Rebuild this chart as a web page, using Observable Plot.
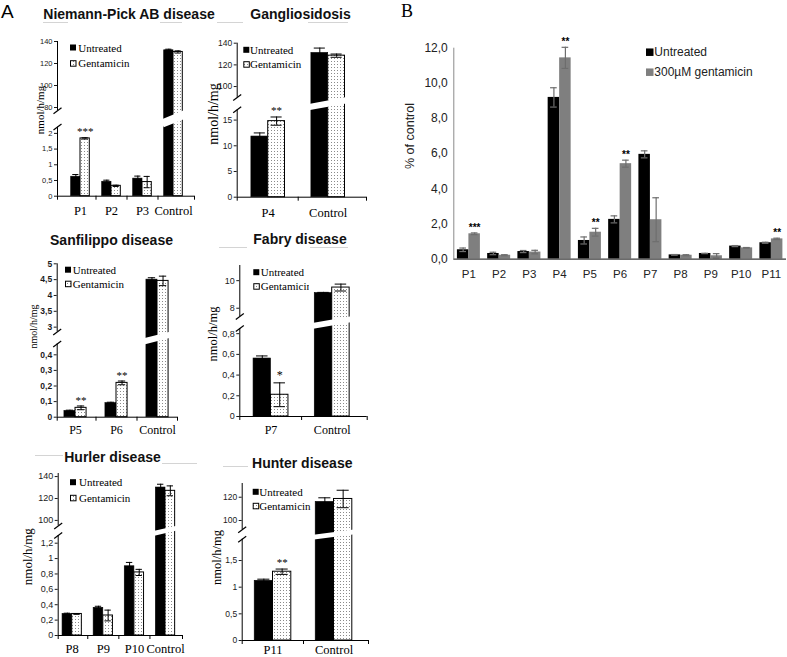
<!DOCTYPE html>
<html><head><meta charset="utf-8">
<script src="https://cdn.jsdelivr.net/npm/d3@7"></script>
<script src="https://cdn.jsdelivr.net/npm/@observablehq/plot@0.6"></script>
<style>
body{margin:0;background:#fff}
#root{position:relative;width:787px;height:657px;overflow:hidden;background:#fff}
</style></head>
<body><div id="root"></div>
<script>
const SANS = "'Liberation Sans', Arial, sans-serif";
const SERIF = "'Liberation Serif', 'Times New Roman', serif";

// ---------- Panel A data ----------
// Niemann-Pick AB disease
const npCats = ["P1", "P2", "P3", "Control"];
const npUntreated = [0.62, 0.46, 0.56, 132];
const npUntreatedErr = [0.07, 0.05, 0.08, 1];
const npGentamicin = [1.84, 0.33, 0.45, 130.5];
const npGentamicinErr = [0.02, 0.02, 0.18, 1];
const npSig = ["***", "", "", ""];
const npTicks = [0, 0.5, 1, 1.5, 2, 80, 100, 120, 140];
const npScale = [2.2, 77, 140];

// Gangliosidosis
const gaCats = ["P4", "Control"];
const gaUntreated = [11.8, 131];
const gaUntreatedErr = [0.7, 4.5];
const gaGentamicin = [14.8, 128.5];
const gaGentamicinErr = [0.8, 1.5];
const gaSig = ["**", ""];
const gaTicks = [0, 5, 10, 15, 100, 120, 140];
const gaScale = [17, 90, 140];

// Sanfilippo disease
const sfCats = ["P5", "P6", "Control"];
const sfUntreated = [0.04, 0.09, 4.5];
const sfUntreatedErr = [0.005, 0.006, 0.06];
const sfGentamicin = [0.06, 0.22, 4.46];
const sfGentamicinErr = [0.012, 0.012, 0.15];
const sfSig = ["**", "**", ""];
const sfTicks = [0, 0.1, 0.2, 0.3, 0.4, 3, 3.5, 4, 4.5, 5];
const sfScale = [0.47, 2.85, 5];

// Fabry disease
const fbCats = ["P7", "Control"];
const fbUntreated = [0.56, 9.1];
const fbUntreatedErr = [0.025, 0.05];
const fbGentamicin = [0.21, 9.5];
const fbGentamicinErr = [0.115, 0.25];
const fbSig = ["*", ""];
const fbTicks = [0, 0.2, 0.4, 0.6, 0.8, 8, 10];
const fbScale = [0.85, 7.4, 11.1];

// Hurler disease
const huCats = ["P8", "P9", "P10", "Control"];
const huUntreated = [0.28, 0.36, 0.9, 130];
const huUntreatedErr = [0.01, 0.02, 0.05, 3];
const huGentamicin = [0.28, 0.26, 0.82, 127];
const huGentamicinErr = [0.005, 0.07, 0.04, 4.5];
const huSig = ["", "", "", ""];
const huTicks = [0, 0.2, 0.4, 0.6, 0.8, 1, 1.2, 100, 120, 140];
const huScale = [1.3, 95, 142.8];

// Hunter disease
const hnCats = ["P11", "Control"];
const hnUntreated = [1.12, 116];
const hnUntreatedErr = [0.03, 3.5];
const hnGentamicin = [1.29, 118.5];
const hnGentamicinErr = [0.05, 7.5];
const hnSig = ["**", ""];
const hnTicks = [0, 0.5, 1, 1.5, 100, 120];
const hnScale = [1.9, 92, 131.8];

const titles = ["Niemann-Pick AB disease", "Gangliosidosis", "Sanfilippo disease", "Fabry disease", "Hurler disease", "Hunter disease"];
const seriesA = ["Untreated", "Gentamicin"];
const yLabelA = "nmol/h/mg";

// ---------- Panel B data ----------
const bCats = ["P1", "P2", "P3", "P4", "P5", "P6", "P7", "P8", "P9", "P10", "P11"];
const bUntreated = [0.53, 0.32, 0.43, 9.2, 1.06, 2.26, 5.96, 0.24, 0.32, 0.74, 0.93];
const bUntreatedErr = [0.1, 0.07, 0.06, 0.55, 0.2, 0.2, 0.2, 0.02, 0.01, 0.03, 0.03];
const bGentamicin = [1.44, 0.22, 0.4, 11.45, 1.53, 5.43, 2.24, 0.22, 0.19, 0.64, 1.15];
const bGentamicinErr = [0.05, 0.03, 0.1, 0.6, 0.22, 0.2, 1.25, 0.03, 0.12, 0.02, 0.04];
const bSig = ["***", "", "", "**", "**", "**", "", "", "", "", "**"];
const bTicks = [0, 2, 4, 6, 8, 10, 12];
const seriesB = ["Untreated", "300\u00b5M gentamicin"];
const yLabelB = "% of control";

// ---------- Layout (page pixels) ----------
const LAYOUT = {
  np: {box: [8, 30, 205, 224], axisL: 57, axisR: 194, c0: 80, band: 31, w: 0.3, y: [195.7, 126.6, 110.3, 41], tickFont: 7.5, xlabY: 210.7, xlabFont: 12.5, sigFont: 11, sigDy: 3,
       title: [129, 13.8], ylab: [39.5, 110, 11], legend: [70, 47.5, 63.2, 78.3]},
  ga: {box: [195, 30, 380, 224], axisL: 236.7, axisR: 366, c0: 267.7, band: 60, w: 0.28, y: [196.7, 109.3, 96.9, 42.7], tickFont: 8.5, xlabY: 212, xlabFont: 12.5, sigFont: 11, sigDy: 3,
       title: [300.5, 13.5], ylab: [213.3, 114, 14], legend: [243.3, 49.8, 64.2, 250]},
  sf: {box: [8, 255, 192, 440], axisL: 56.7, axisR: 177, c0: 75, band: 41, w: 0.27, y: [416.7, 343.4, 331.4, 263.3], tickFont: 8.5, tickWeight: "bold", xlabY: 430, xlabFont: 12, sigFont: 11, sigDy: 2,
       title: [111.5, 239.5], ylab: [33.3, 326.5, 10], legend: [65, 269.7, 283.7, 72.7]},
  fb: {box: [195, 255, 380, 440], axisL: 239.3, axisR: 366.7, c0: 270.5, band: 61.2, w: 0.285, y: [416, 328, 316, 265], tickFont: 9, xlabY: 430, xlabFont: 12, sigFont: 12, sigDy: 4,
       title: [300, 239], ylab: [212.5, 334, 12.5], legend: [253.3, 272.2, 286.2, 260.7], legendClip: 309},
  hu: {box: [8, 468, 195, 657], axisL: 57.7, axisR: 182, c0: 71.7, band: 31.1, w: 0.31, y: [635, 535, 525.4, 473], tickFont: 9, xlabY: 648.5, xlabFont: 12.5, sigFont: 11, sigDy: 3,
       title: [112.5, 457], ylab: [27.5, 556.7, 13], legend: [70, 482.2, 497.8, 79]},
  hn: {box: [195, 475, 380, 657], axisL: 241.7, axisR: 368, c0: 272.5, band: 61, w: 0.3, y: [640, 538.7, 529.3, 483], tickFont: 8.5, xlabY: 649.5, xlabFont: 12.5, sigFont: 11, sigDy: 3,
       title: [302.3, 462.7], ylab: [216.7, 557.5, 12.5], legend: [252.7, 491.8, 505.8, 259.3]}
};
const LAYOUT_B = {box: [398, 28, 787, 292], axisL: 453.3, axisR: 786, c0: 468.4, band: 30.25, w: 0.38, y0: 258.6, yTop: 47.7,
  xlabY: 274.3, ylab: [410, 136, 12.5], legend: [646, 52.2, 72.2, 654.3]};
const DECO = [[43, 68, 22], [160, 182, 22], [217, 243, 22], [308, 348, 22], [219, 247, 247], [310, 348, 247], [35, 63, 455], [162, 197, 463], [223, 248, 466]];

const fmtComma = d => String(d).replace(".", ",");
const root = document.getElementById("root");

function place(svg, box) {
  svg.style.position = "absolute";
  svg.style.left = box[0] + "px";
  svg.style.top = box[1] + "px";
  root.appendChild(svg);
}

function smallPanel(D, L) {
  const [bx0, by0, bx1, by1] = L.box;
  const W = bx1 - bx0, H = by1 - by0;
  const [r0, rLow, rUp, rTop] = L.y.map(v => v - by0);
  const [lowTop, upBot, top] = D.scale;
  const yNeg = -4 * lowTop / (r0 - rLow);
  const yDomain = [yNeg, 0, lowTop, upBot, top];
  const yRange = [r0 + 4, r0, rLow, rUp, rTop];
  const inv = d3.scaleLinear().domain(yRange).range(yDomain);
  const xmin = -(L.c0 - L.axisL) / L.band, xmax = (L.axisR - L.c0) / L.band;
  const n = D.cats.length, w = L.w, ci = n - 1;
  const px = 1 / L.band;
  const un = D.cats.map((c, i) => ({i, xc: i - w / 2, x1: i - w, x2: i, v: D.u[i], e: D.ue[i]}));
  const ge = D.cats.map((c, i) => ({i, xc: i + w / 2, x1: i, x2: i + w, v: D.g[i], e: D.ge[i], sig: D.sig[i]}));
  const all = un.concat(ge);
  const capHalf = w * 0.33;
  const gap = rLow - rUp;
  const cut = [{x1: ci - w - 2 * px, x2: ci + w + 2 * px, y1: inv(rLow - 0.22 * gap), y2: inv(rUp + 0.22 * gap)}];
  const slashes = [rLow, rUp].map(r => ({x1: xmin - 4 * px, x2: xmin + 4 * px, y1: inv(r + 3), y2: inv(r - 3)}));
  const bounds = [xmin, ...d3.range(n - 1).map(i => i + 0.5), xmax];
  const svg = Plot.plot({
    width: W, height: H,
    marginLeft: L.axisL - bx0, marginRight: bx1 - L.axisR,
    marginTop: rTop, marginBottom: H - (r0 + 4),
    x: {type: "linear", domain: [xmin, xmax], axis: null},
    y: {type: "linear", domain: yDomain, range: yRange},
    style: {fontFamily: SERIF, background: "transparent", overflow: "visible", color: "#000"},
    marks: [
      Plot.rect(un, {x1: "x1", x2: "x2", y1: () => 0, y2: "v", fill: "#000", stroke: "#000", strokeWidth: 0.6}),
      Plot.rect(ge, {x1: "x1", x2: "x2", y1: () => 0, y2: "v", fill: "url(#dots)", stroke: "#000", strokeWidth: 1}),
      Plot.link(cut, {x1: "x1", y1: "y1", x2: "x2", y2: "y2", stroke: "#fff", strokeWidth: gap * 0.5, strokeLinecap: "butt"}),
      Plot.ruleX(all, {x: "xc", y1: d => d.v - d.e, y2: d => d.v + d.e, stroke: "#000", strokeWidth: 1}),
      Plot.ruleY(all, {y: d => d.v + d.e, x1: d => d.xc - capHalf, x2: d => d.xc + capHalf, stroke: "#000", strokeWidth: 1}),
      Plot.ruleY(all, {y: d => d.v - d.e, x1: d => d.xc - capHalf, x2: d => d.xc + capHalf, stroke: "#000", strokeWidth: 1}),
      Plot.ruleX([xmin], {x: d => d, y1: () => 0, y2: () => lowTop, stroke: "#000"}),
      Plot.ruleX([xmin], {x: d => d, y1: () => upBot, y2: () => top, stroke: "#000"}),
      Plot.link(slashes, {x1: "x1", y1: "y1", x2: "x2", y2: "y2", stroke: "#000", strokeWidth: 1.2}),
      Plot.ruleY([0], {y: d => d, x1: () => xmin, x2: () => xmax, stroke: "#000"}),
      Plot.ruleX(bounds, {x: d => d, y1: () => yNeg, y2: () => 0, stroke: "#000"}),
      Plot.axisY(D.ticks, {anchor: "left", label: null, tickSize: 3, tickPadding: 2, tickFormat: fmtComma, fontSize: L.tickFont, fontFamily: SANS, fontWeight: L.tickWeight || "normal", color: "#1a1a1a"}),
      Plot.text(D.cats, {x: (d, i) => i, y: () => 0, dy: L.xlabY - L.y[0], text: d => d, fontSize: L.xlabFont, fontFamily: SERIF, lineAnchor: "middle"}),
      Plot.text(ge.filter(d => d.sig), {x: "xc", y: d => d.v + d.e, dy: -L.sigDy, text: "sig", fontSize: L.sigFont, fontFamily: SERIF, lineAnchor: "bottom", fill: "#000"})
    ]
  });
  place(svg, L.box);
}

function panelB() {
  const L = LAYOUT_B;
  const [bx0, by0, bx1, by1] = L.box;
  const W = bx1 - bx0, H = by1 - by0;
  const xmin = -(L.c0 - L.axisL) / L.band, xmax = (L.axisR - L.c0) / L.band;
  const w = L.w;
  const un = bCats.map((c, i) => ({i, xc: i - w / 2, x1: i - w, x2: i, v: bUntreated[i], e: bUntreatedErr[i]}));
  const ge = bCats.map((c, i) => ({i, xc: i + w / 2, x1: i, x2: i + w, v: bGentamicin[i], e: bGentamicinErr[i], sig: bSig[i]}));
  const all = un.concat(ge);
  const capHalf = 0.11;
  const svg = Plot.plot({
    width: W, height: H,
    marginLeft: L.axisL - bx0, marginRight: bx1 - L.axisR,
    marginTop: L.yTop - by0, marginBottom: by1 - L.y0,
    x: {type: "linear", domain: [xmin, xmax], axis: null},
    y: {type: "linear", domain: [0, 12]},
    style: {fontFamily: SANS, background: "transparent", overflow: "visible", color: "#000"},
    marks: [
      Plot.rect(un, {x1: "x1", x2: "x2", y1: () => 0, y2: "v", fill: "#000"}),
      Plot.rect(ge, {x1: "x1", x2: "x2", y1: () => 0, y2: "v", fill: "#7f7f7f"}),
      Plot.ruleX(all, {x: "xc", y1: d => d.v - d.e, y2: d => d.v + d.e, stroke: "#6e6e6e", strokeWidth: 1.2}),
      Plot.ruleY(all, {y: d => d.v + d.e, x1: d => d.xc - capHalf, x2: d => d.xc + capHalf, stroke: "#6e6e6e", strokeWidth: 1.2}),
      Plot.ruleY(all, {y: d => d.v - d.e, x1: d => d.xc - capHalf, x2: d => d.xc + capHalf, stroke: "#6e6e6e", strokeWidth: 1.2}),
      Plot.ruleX([xmin], {x: d => d, y1: () => 0, y2: () => 12, stroke: "#8a8a8a"}),
      Plot.ruleY([0], {y: d => d, stroke: "#3a3a3a", strokeWidth: 1.2}),
      Plot.axisY(bTicks, {anchor: "left", label: null, tickSize: 0, tickPadding: 6, tickFormat: d => d.toFixed(1).replace(".", ","), fontSize: 12, fontFamily: SANS, color: "#222"}),
      Plot.text(bCats, {x: (d, i) => i, y: () => 0, dy: L.xlabY - L.y0, text: d => d, fontSize: 11.5, fontFamily: SANS, fill: "#222", lineAnchor: "middle"}),
      Plot.text(ge.filter(d => d.sig), {x: "xc", y: d => d.v + d.e, dy: -2, text: "sig", fontSize: 10, fontWeight: "bold", fontFamily: SANS, lineAnchor: "bottom"})
    ]
  });
  place(svg, L.box);
}

const panelsA = [
  [{cats: npCats, u: npUntreated, ue: npUntreatedErr, g: npGentamicin, ge: npGentamicinErr, sig: npSig, ticks: npTicks, scale: npScale}, LAYOUT.np],
  [{cats: gaCats, u: gaUntreated, ue: gaUntreatedErr, g: gaGentamicin, ge: gaGentamicinErr, sig: gaSig, ticks: gaTicks, scale: gaScale}, LAYOUT.ga],
  [{cats: sfCats, u: sfUntreated, ue: sfUntreatedErr, g: sfGentamicin, ge: sfGentamicinErr, sig: sfSig, ticks: sfTicks, scale: sfScale}, LAYOUT.sf],
  [{cats: fbCats, u: fbUntreated, ue: fbUntreatedErr, g: fbGentamicin, ge: fbGentamicinErr, sig: fbSig, ticks: fbTicks, scale: fbScale}, LAYOUT.fb],
  [{cats: huCats, u: huUntreated, ue: huUntreatedErr, g: huGentamicin, ge: huGentamicinErr, sig: huSig, ticks: huTicks, scale: huScale}, LAYOUT.hu],
  [{cats: hnCats, u: hnUntreated, ue: hnUntreatedErr, g: hnGentamicin, ge: hnGentamicinErr, sig: hnSig, ticks: hnTicks, scale: hnScale}, LAYOUT.hn]
];
panelsA.forEach(([D, L]) => smallPanel(D, L));
panelB();

// ---------- Overlay: titles, labels, legends ----------
const ov = d3.select(root).append("svg")
  .attr("width", 787).attr("height", 657)
  .style("position", "absolute").style("left", "0px").style("top", "0px").style("overflow", "visible");
const defs = ov.append("defs");
const pat = defs.append("pattern").attr("id", "dots").attr("width", 3).attr("height", 3).attr("patternUnits", "userSpaceOnUse");
pat.append("rect").attr("width", 3).attr("height", 3).attr("fill", "#fff");
pat.append("rect").attr("x", 1).attr("y", 1).attr("width", 1).attr("height", 1).attr("fill", "#8a8a8a");

DECO.forEach(([x1, x2, y]) => ov.append("line").attr("x1", x1).attr("x2", x2).attr("y1", y + 0.5).attr("y2", y + 0.5).attr("stroke", "#d4d4d4"));

ov.append("text").attr("x", 1).attr("y", 18).attr("font-family", SANS).attr("font-size", 19).text("A");
ov.append("text").attr("x", 401).attr("y", 16.7).attr("font-family", SERIF).attr("font-size", 18).text("B");

Object.values(LAYOUT).forEach((L, k) => {
  ov.append("text").attr("x", L.title[0]).attr("y", L.title[1]).attr("text-anchor", "middle").attr("dominant-baseline", "central")
    .attr("font-family", SANS).attr("font-weight", "bold").attr("font-size", 14).attr("fill", "#111").text(titles[k]);
  ov.append("text").attr("transform", `translate(${L.ylab[0]},${L.ylab[1]}) rotate(-90)`).attr("text-anchor", "middle").attr("dominant-baseline", "central")
    .attr("font-family", SERIF).attr("font-size", L.ylab[2]).text(yLabelA);
  const [sx, cy1, cy2, tx] = L.legend;
  let g = ov.append("g");
  if (L.legendClip) {
    defs.append("clipPath").attr("id", "legclip" + k).append("rect").attr("x", sx - 2).attr("y", cy1 - 10).attr("width", L.legendClip - sx + 2).attr("height", cy2 - cy1 + 20);
    g.attr("clip-path", `url(#legclip${k})`);
  }
  g.append("rect").attr("x", sx).attr("y", cy1 - 3).attr("width", 6).attr("height", 6).attr("fill", "#000");
  g.append("rect").attr("x", sx + 0.5).attr("y", cy2 - 2.5).attr("width", 5.5).attr("height", 5.5).attr("fill", "url(#dots)").attr("stroke", "#000").attr("stroke-width", 1);
  [cy1, cy2].forEach((cy, j) => g.append("text").attr("x", tx).attr("y", cy).attr("dominant-baseline", "central")
    .attr("font-family", SERIF).attr("font-size", 11).text(seriesA[j]));
});

{
  const L = LAYOUT_B;
  ov.append("text").attr("transform", `translate(${L.ylab[0]},${L.ylab[1]}) rotate(-90)`).attr("text-anchor", "middle").attr("dominant-baseline", "central")
    .attr("font-family", SANS).attr("font-size", L.ylab[2]).attr("fill", "#222").text(yLabelB);
  const [sx, cy1, cy2, tx] = L.legend;
  ov.append("rect").attr("x", sx).attr("y", cy1 - 3.75).attr("width", 7.5).attr("height", 7.5).attr("fill", "#000");
  ov.append("rect").attr("x", sx).attr("y", cy2 - 3.75).attr("width", 7.5).attr("height", 7.5).attr("fill", "#7f7f7f");
  [cy1, cy2].forEach((cy, j) => ov.append("text").attr("x", tx).attr("y", cy).attr("dominant-baseline", "central")
    .attr("font-family", SANS).attr("font-size", 12).attr("fill", "#222").text(seriesB[j]));
}
</script>
</body></html>
